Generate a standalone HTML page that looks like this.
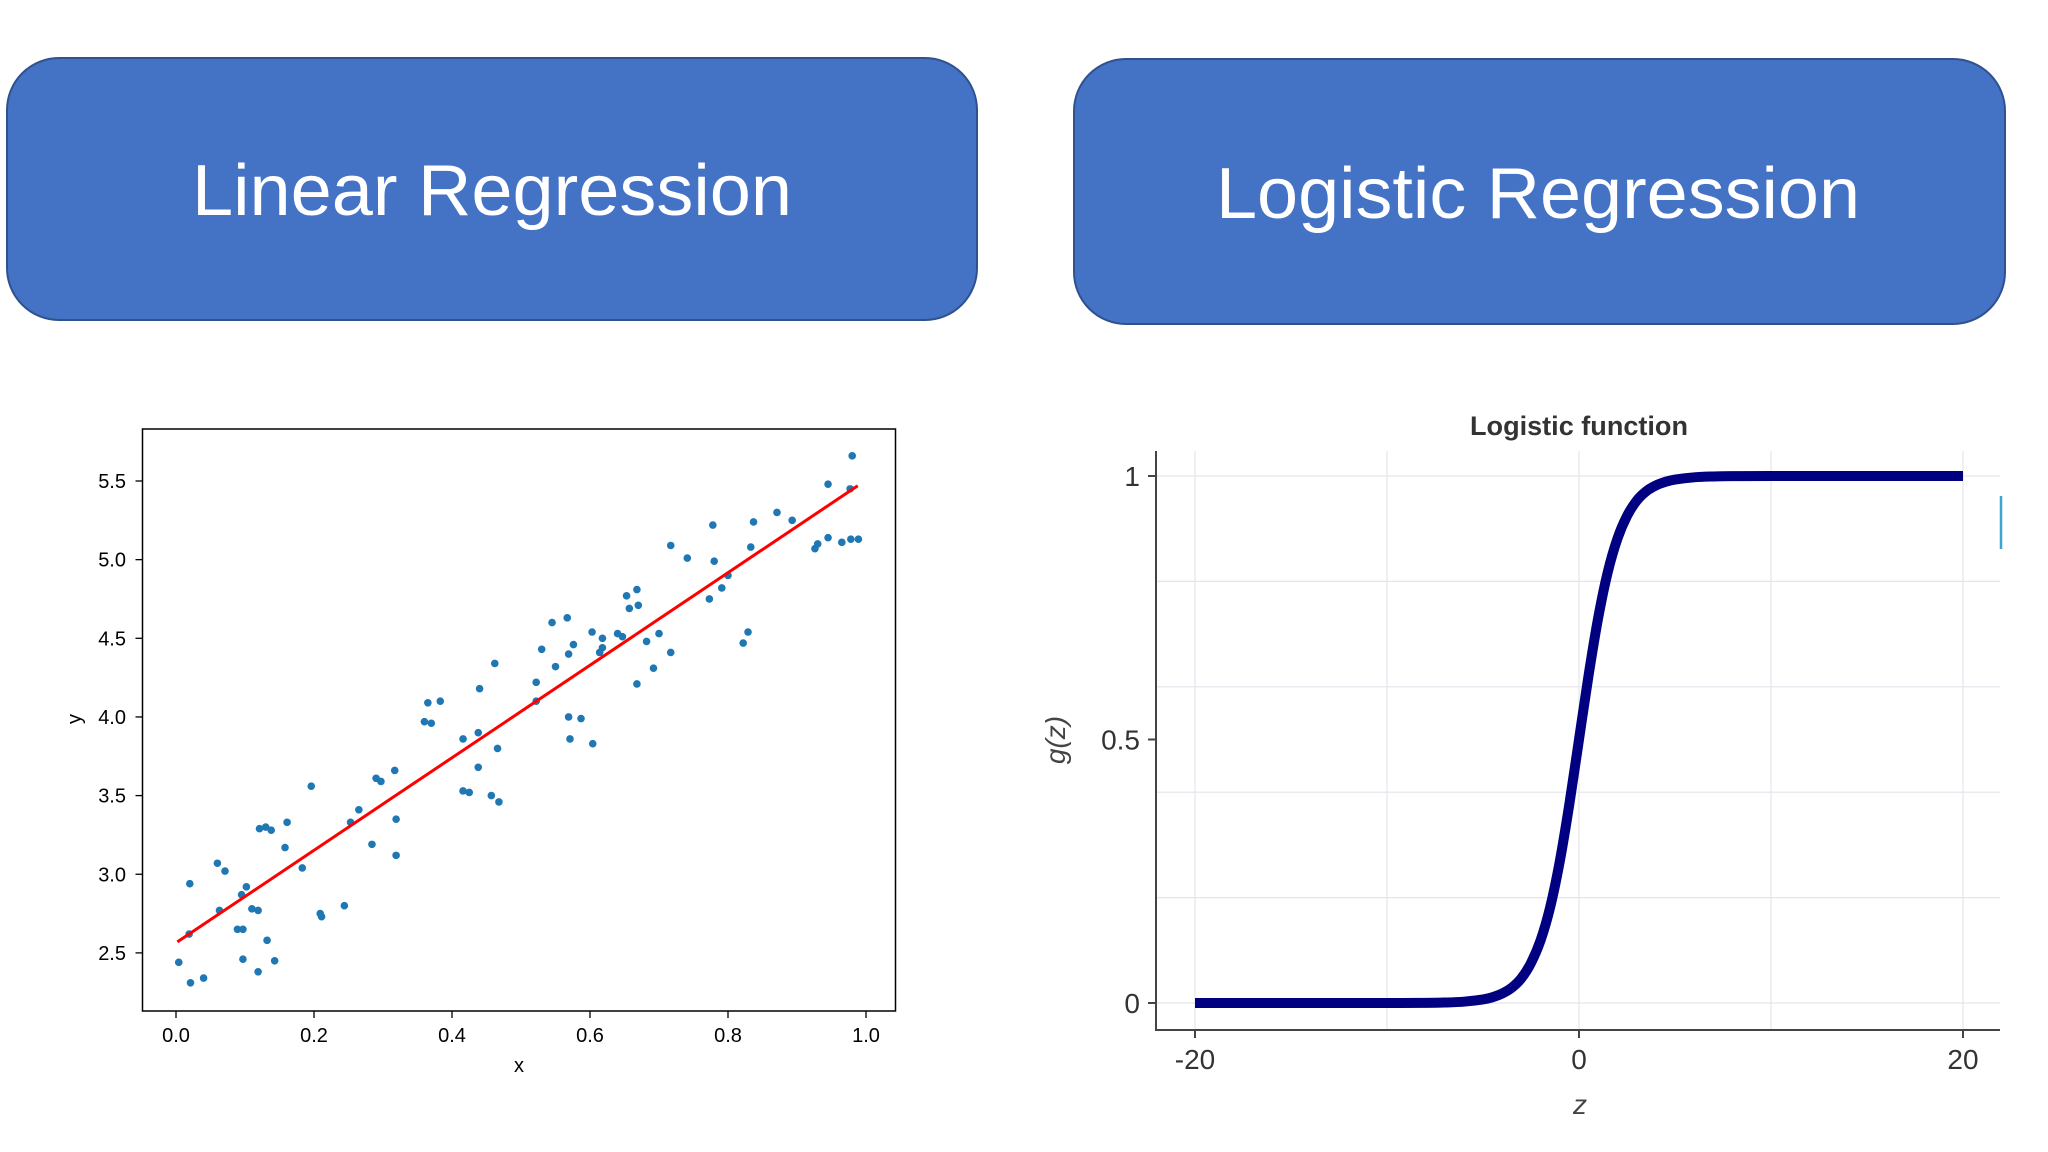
<!DOCTYPE html>
<html><head><meta charset="utf-8"><style>
html,body{margin:0;padding:0;background:#fff;}
svg{display:block;font-family:"Liberation Sans",sans-serif;}
</style></head><body>
<svg id="root" width="2048" height="1152" viewBox="0 0 2048 1152" xmlns="http://www.w3.org/2000/svg">
  <rect x="7" y="58" width="970" height="262" rx="52" fill="#4472c4" stroke="#2f528f" stroke-width="2"/>
  <text x="492" y="215" text-anchor="middle" font-size="72" fill="#fff" textLength="600" lengthAdjust="spacingAndGlyphs">Linear Regression</text>
  <rect x="1074" y="59" width="931" height="265" rx="52" fill="#4472c4" stroke="#2f528f" stroke-width="2"/>
  <text x="1538" y="218" text-anchor="middle" font-size="72" fill="#fff" textLength="644" lengthAdjust="spacingAndGlyphs">Logistic Regression</text>
  <g id="scatter"></g>
  <g id="logit"></g>
</svg>
<script>
const NS="http://www.w3.org/2000/svg";
const scatterX=[0.004,0.021,0.040,0.020,0.019,0.060,0.071,0.063,0.089,0.097,0.095,0.102,0.097,0.110,0.119,0.119,0.132,0.143,0.121,0.130,0.138,0.158,0.161,0.183,0.196,0.209,0.211,0.244,0.253,0.265,0.284,0.290,0.297,0.317,0.319,0.319,0.360,0.365,0.370,0.383,0.416,0.416,0.425,0.438,0.438,0.440,0.457,0.466,0.468,0.462,0.522,0.522,0.530,0.545,0.550,0.567,0.569,0.569,0.571,0.576,0.587,0.603,0.604,0.614,0.618,0.618,0.640,0.647,0.653,0.657,0.668,0.670,0.668,0.682,0.692,0.700,0.717,0.717,0.741,0.773,0.778,0.780,0.791,0.800,0.822,0.829,0.833,0.837,0.871,0.893,0.926,0.930,0.945,0.945,0.965,0.977,0.980,0.978,0.989];
const scatterY=[2.44,2.31,2.34,2.94,2.62,3.07,3.02,2.77,2.65,2.65,2.87,2.92,2.46,2.78,2.77,2.38,2.58,2.45,3.29,3.30,3.28,3.17,3.33,3.04,3.56,2.75,2.73,2.80,3.33,3.41,3.19,3.61,3.59,3.66,3.35,3.12,3.97,4.09,3.96,4.10,3.86,3.53,3.52,3.90,3.68,4.18,3.50,3.80,3.46,4.34,4.22,4.10,4.43,4.60,4.32,4.63,4.40,4.00,3.86,4.46,3.99,4.54,3.83,4.41,4.50,4.44,4.53,4.51,4.77,4.69,4.81,4.71,4.21,4.48,4.31,4.53,5.09,4.41,5.01,4.75,5.22,4.99,4.82,4.90,4.47,4.54,5.08,5.24,5.30,5.25,5.07,5.10,5.48,5.14,5.11,5.45,5.66,5.13,5.13];
const fitX=[0.002,0.988];
const fitY=[2.57,5.47];
const scatterXTicks=[0.0,0.2,0.4,0.6,0.8,1.0];
const scatterXTickLabels=["0.0","0.2","0.4","0.6","0.8","1.0"];
const scatterYTicks=[2.5,3.0,3.5,4.0,4.5,5.0,5.5];
const scatterYTickLabels=["2.5","3.0","3.5","4.0","4.5","5.0","5.5"];

const logitZ=[-20,-10,-8,-7,-6,-5,-4.5,-4,-3.5,-3,-2.5,-2,-1.5,-1,-0.5,0,0.5,1,1.5,2,2.5,3,3.5,4,4.5,5,6,7,8,10,20];
const logitG=[0,0.00005,0.0003,0.0009,0.0025,0.0067,0.011,0.018,0.029,0.047,0.076,0.119,0.182,0.269,0.378,0.5,0.622,0.731,0.818,0.881,0.924,0.953,0.971,0.982,0.989,0.9933,0.9975,0.9991,0.9997,0.99995,1];
const logitXTicks=[-20,0,20];
const logitXTickLabels=["-20","0","20"];
const logitYTicks=[0,0.5,1];
const logitYTickLabels=["0","0.5","1"];
const logitXGrid=[-20,-10,0,10,20];
const logitYGrid=[0,0.2,0.4,0.6,0.8,1];

function mk(tag,attrs,parent,txt){const e=document.createElementNS(NS,tag);for(const k in attrs)e.setAttribute(k,attrs[k]);if(txt!==undefined)e.textContent=txt;parent.appendChild(e);return e;}

// scatter
(function(){
  const g=document.getElementById('scatter');
  const sx=v=>176+v*690, sy=v=>481+(5.5-v)*157.3;
  let e=mk('rect',{x:142.5,y:429,width:753,height:582,fill:'none',stroke:'#000','stroke-width':1.5},g);
  
  
  scatterXTicks.forEach((t,i)=>{
    const x=sx(t);
    let l=mk('line',{x1:x,x2:x,y1:1011,y2:1018,stroke:'#000','stroke-width':1.3},g);
    
    
    let tx=mk('text',{x:x,y:1042,'font-size':20,'text-anchor':'middle',fill:'#000'},g,scatterXTickLabels[i]);
    
    
  });
  scatterYTicks.forEach((t,i)=>{
    const y=sy(t);
    let l=mk('line',{x1:135.5,x2:142.5,y1:y,y2:y,stroke:'#000','stroke-width':1.3},g);
    
    
    let tx=mk('text',{x:126,y:y+7,'font-size':20,'text-anchor':'end',fill:'#000'},g,scatterYTickLabels[i]);
    
    
  });
  let xl=mk('text',{x:519,y:1072,'font-size':20,'text-anchor':'middle'},g,'x');
  
  
  let yl=mk('text',{x:0,y:0,'font-size':20,'text-anchor':'middle',transform:'translate(81,719) rotate(-90)'},g,'y');
  
  
  scatterX.forEach((v,i)=>{
    let c=mk('circle',{cx:sx(v),cy:sy(scatterY[i]),r:3.8,fill:'#1f77b4'},g);
    
    
  });
  let fl=mk('line',{x1:sx(fitX[0]),y1:sy(fitY[0]),x2:sx(fitX[1]),y2:sy(fitY[1]),stroke:'#ff0000','stroke-width':3},g);
  
  
})();

// logistic
(function(){
  const g=document.getElementById('logit');
  const sx=v=>1579+v*19.2, sy=v=>1003-v*527;
  const L=1156,R=2000,T=451,B=1030;
  logitXGrid.forEach(t=>{
    let l=mk('line',{x1:sx(t),x2:sx(t),y1:T,y2:B,stroke:'#e4e4ec','stroke-width':1.2},g);
    
    
  });
  logitYGrid.forEach(t=>{
    let l=mk('line',{x1:L,x2:R,y1:sy(t),y2:sy(t),stroke:'#e4e4ec','stroke-width':1.2},g);
    
    
  });
  let ax=mk('path',{d:`M${L} ${T} V${B} H${R}`,fill:'none',stroke:'#444','stroke-width':2},g);
  
  
  let cy=mk('line',{x1:R+1,x2:R+1,y1:496,y2:549,stroke:'#3aa6d0','stroke-width':2.5},g);
  
  
  logitXTicks.forEach((t,i)=>{
    let l=mk('line',{x1:sx(t),x2:sx(t),y1:B,y2:B+8,stroke:'#444','stroke-width':2},g);
    
    
    let tx=mk('text',{x:sx(t),y:B+39,'font-size':28,'text-anchor':'middle',fill:'#333'},g,logitXTickLabels[i]);
    
    
  });
  logitYTicks.forEach((t,i)=>{
    let l=mk('line',{x1:L-8,x2:L,y1:sy(t),y2:sy(t),stroke:'#444','stroke-width':2},g);
    
    
    let tx=mk('text',{x:L-16,y:sy(t)+10,'font-size':28,'text-anchor':'end',fill:'#333'},g,logitYTickLabels[i]);
    
    
  });
  let tt=mk('text',{x:1579,y:435,'font-size':27,'font-weight':'bold','text-anchor':'middle',fill:'#333',textLength:218,lengthAdjust:'spacingAndGlyphs'},g,'Logistic function');
  
  
  let xl=mk('text',{x:1580,y:1114,'font-size':28,'font-style':'italic','text-anchor':'middle',fill:'#444'},g,'z');
  
  
  let yl=mk('text',{x:0,y:0,'font-size':28,'font-style':'italic','text-anchor':'middle',fill:'#444',transform:'translate(1065,740) rotate(-90)'},g,'g(z)');
  
  
  const P=logitZ.map((z,i)=>[sx(z),sy(logitG[i])]);
  let d=`M${P[0][0]} ${P[0][1]}`;
  for(let i=0;i<P.length-1;i++){
    const p0=P[Math.max(0,i-1)],p1=P[i],p2=P[i+1],p3=P[Math.min(P.length-1,i+2)];
    const c1=[p1[0]+(p2[0]-p0[0])/6,p1[1]+(p2[1]-p0[1])/6];
    const c2=[p2[0]-(p3[0]-p1[0])/6,p2[1]-(p3[1]-p1[1])/6];
    d+=` C${c1[0]} ${c1[1]} ${c2[0]} ${c2[1]} ${p2[0]} ${p2[1]}`;
  }
  let cv=mk('path',{d:d,fill:'none',stroke:'#000080','stroke-width':10,'stroke-linejoin':'round'},g);
  
  
})();
</script>
</body></html>
